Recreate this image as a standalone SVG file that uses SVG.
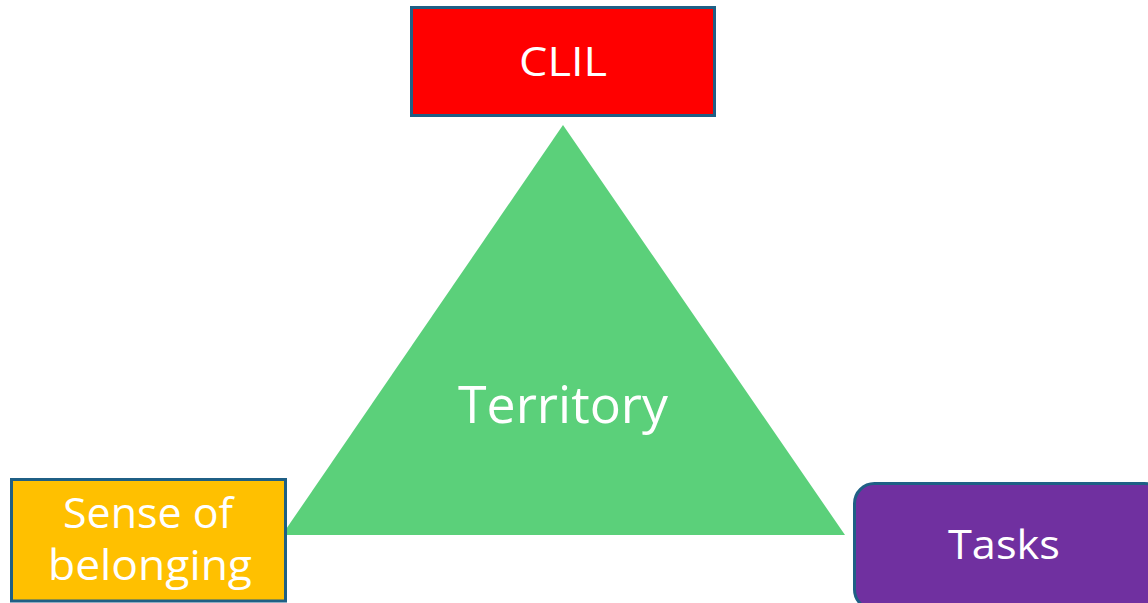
<svg xmlns="http://www.w3.org/2000/svg" width="1148" height="603" viewBox="0 0 1148 603">
<style>
.box{stroke:#1F5F85;stroke-width:3}
.t{font-family:"Open Sans","Liberation Sans",sans-serif;fill:#ffffff;text-anchor:middle}
</style>
<rect width="1148" height="603" fill="#ffffff"/>
<g id="territory">
<polygon points="563,125 845,535 282,535" fill="#5BD07A"/>
<text class="t" x="563" y="423" font-size="52" textLength="210" lengthAdjust="spacingAndGlyphs">Territory</text>
</g>
<g id="clil">
<rect class="box" x="411.5" y="7.5" width="303" height="108" fill="#FF0000"/>
<text class="t" x="563" y="76" font-size="41" textLength="88" lengthAdjust="spacingAndGlyphs">CLIL</text>
</g>
<g id="sense">
<rect class="box" x="11.5" y="479.5" width="274" height="121.5" fill="#FFC000"/>
<text class="t" x="148" y="528" font-size="42" textLength="170" lengthAdjust="spacingAndGlyphs">Sense of</text>
<text class="t" x="150" y="580" font-size="42" textLength="204" lengthAdjust="spacingAndGlyphs">belonging</text>
</g>
<g id="tasks">
<rect class="box" x="854.5" y="483.5" width="310" height="126" rx="20" fill="#7030A0"/>
<text class="t" x="1004" y="559" font-size="41" textLength="112" lengthAdjust="spacingAndGlyphs">Tasks</text>
</g>
<g id="connectors"></g>
</svg>
